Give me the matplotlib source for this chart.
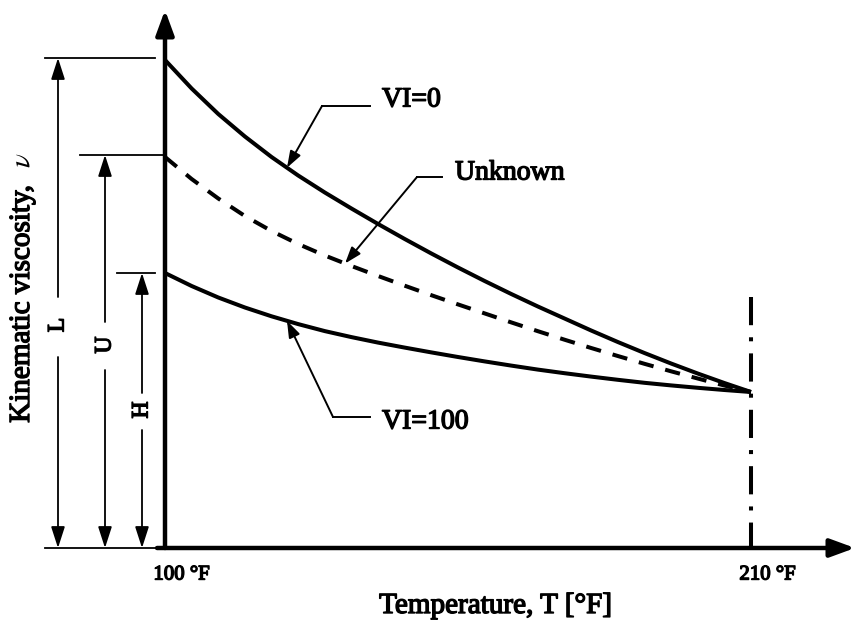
import numpy as np
import matplotlib
matplotlib.use("Agg")
import matplotlib.pyplot as plt
import matplotlib.patheffects as pe

# schematic viscosity-temperature curves (arbitrary viscosity units)
temps = [100, 105, 110, 115, 120, 125, 130, 135, 140, 145, 150, 155,
         160, 165, 170, 175, 180, 185, 190, 195, 200, 205, 210]
vi0 = [48.8, 45.95, 43.4, 41.15, 39.1, 37.25, 35.55, 33.95, 32.4, 30.9, 29.45, 28.05,
       26.7, 25.4, 24.15, 22.95, 21.75, 20.6, 19.5, 18.45, 17.45, 16.5, 15.6]
unknown = [39.1, 36.9, 34.95, 33.2, 31.7, 30.4, 29.25, 28.2, 27.2, 26.23, 25.28, 24.36,
           23.46, 22.56, 21.68, 20.83, 20.0, 19.2, 18.42, 17.67, 16.95, 16.25, 15.6]
vi100 = [27.5, 26.2, 25.05, 24.05, 23.17, 22.39, 21.69, 21.09, 20.54, 20.04, 19.56, 19.1,
         18.66, 18.24, 17.84, 17.48, 17.14, 16.82, 16.52, 16.26, 16.02, 15.8, 15.6]
tick_temps = [100, 210]
tick_labels = ["100 °F", "210 °F"]

plt.rcParams['font.family'] = ['Liberation Serif', 'DejaVu Serif']
plt.rcParams['mathtext.fontset'] = 'stix'

fig = plt.figure(figsize=(8.56, 6.29), dpi=100)
ax = fig.add_axes([0, 0, 1, 1])
sx = 5.327  # pixels per degree F
ax.set_xlim(100 - 165 / sx, 100 + (856 - 165) / sx)
ax.set_ylim((548 - 629) / 10, 548 / 10)
ax.axis('off')

# the serif bold face is not picked up, so thicken the glyphs with a stroke
bold = [pe.withStroke(linewidth=1.0, foreground='k')]


def px(x, y):
    # layout helper: figure pixel -> data coords
    return 100 + (x - 165) / sx, (548 - y) / 10


# axes with arrows
axis_arrow = dict(arrowstyle='-|>,head_length=1.5,head_width=0.55', lw=3.2, color='k',
                  mutation_scale=10, shrinkA=0, shrinkB=0)
ax.annotate('', xy=px(165, 10), xytext=(100, 0), arrowprops=axis_arrow)
ax.annotate('', xy=px(855, 548), xytext=(98.5, 0), arrowprops=axis_arrow)

# curves
ax.plot(temps, vi0, color='k', lw=2.9, solid_capstyle='butt')
ax.plot(temps, vi100, color='k', lw=2.9, solid_capstyle='butt')
ax.plot(temps, unknown, color='k', lw=2.9, linestyle=(0, (3.8, 3)), dash_capstyle='butt')

# dash-dot line at 210 F
ax.plot([210, 210], [px(0, 297)[1], 0], color='k', lw=2.9,
        linestyle=(0, (7, 3, 1, 3)), dash_capstyle='butt')

# dimension lines L, U, H
ax.plot([px(45, 0)[0], px(155, 0)[0]], [vi0[0] + 0.2] * 2, color='k', lw=1.3)
ax.plot([px(80, 0)[0], 100], [unknown[0] + 0.2] * 2, color='k', lw=1.3)
ax.plot([px(117, 0)[0], px(155, 0)[0]], [vi100[0]] * 2, color='k', lw=1.3)
ax.plot([px(45, 0)[0], px(155, 0)[0]], [0, 0], color='k', lw=1.3)

dims = [
    ("L", 58, vi0[0] + 0.2, 297, 357, 325),
    ("U", 105, unknown[0] + 0.2, 322, 370, 345),
    ("H", 142, vi100[0], 393, 430, 410),
]
dim_arrow = dict(arrowstyle='-|>,head_length=1.3,head_width=0.42', lw=1.3, color='k',
                 mutation_scale=10, shrinkA=0, shrinkB=0)
for lab, x, top, g1, g2, yc in dims:
    xd = px(x, 0)[0]
    ax.annotate('', xy=(xd, top), xytext=(xd, px(0, g1)[1]), arrowprops=dim_arrow)
    ax.annotate('', xy=(xd, 0), xytext=(xd, px(0, g2)[1]), arrowprops=dim_arrow)
    ax.text(xd, px(0, yc)[1], lab, rotation=90, ha='center', va='center',
            fontsize=17, path_effects=bold)

# curve labels with leaders
lead_arrow = dict(arrowstyle='-|>,head_length=1.0,head_width=0.35', lw=1.4, color='k',
                  mutation_scale=10, shrinkA=0, shrinkB=0)
leaders = [
    ("VI=0", vi0, 122.9, (322, 106), (370, 106), (382, 100)),
    ("Unknown", unknown, 133.8, (417, 177), (442, 177), (455, 173)),
    ("VI=100", vi100, 122.9, (333, 417), (370, 417), (382, 422)),
]
for lab, curve, t_tip, corner, end, tpos in leaders:
    c = px(*corner)
    e = px(*end)
    ax.plot([c[0], e[0]], [c[1], e[1]], color='k', lw=1.4)
    ax.annotate('', xy=(t_tip, np.interp(t_tip, temps, curve)), xytext=c, arrowprops=lead_arrow)
    ax.text(*px(*tpos), lab, ha='left', va='center', fontsize=20, path_effects=bold)

# tick labels and axis titles
for t, lab in zip(tick_temps, tick_labels):
    ax.text(t + 3.1, px(0, 575)[1], lab, ha='center', va='center',
            fontsize=15, path_effects=bold)
ax.text(*px(495, 606), "Temperature, T [°F]", ha='center', va='center',
        fontsize=21, path_effects=bold)
ax.text(*px(22, 304), "Kinematic viscosity,", rotation=90, ha='center', va='center',
        fontsize=21, path_effects=bold)
ax.text(*px(22, 160), r"$\nu$", rotation=90, ha='center', va='center', fontsize=21)

fig.savefig("out.png", dpi=100)
